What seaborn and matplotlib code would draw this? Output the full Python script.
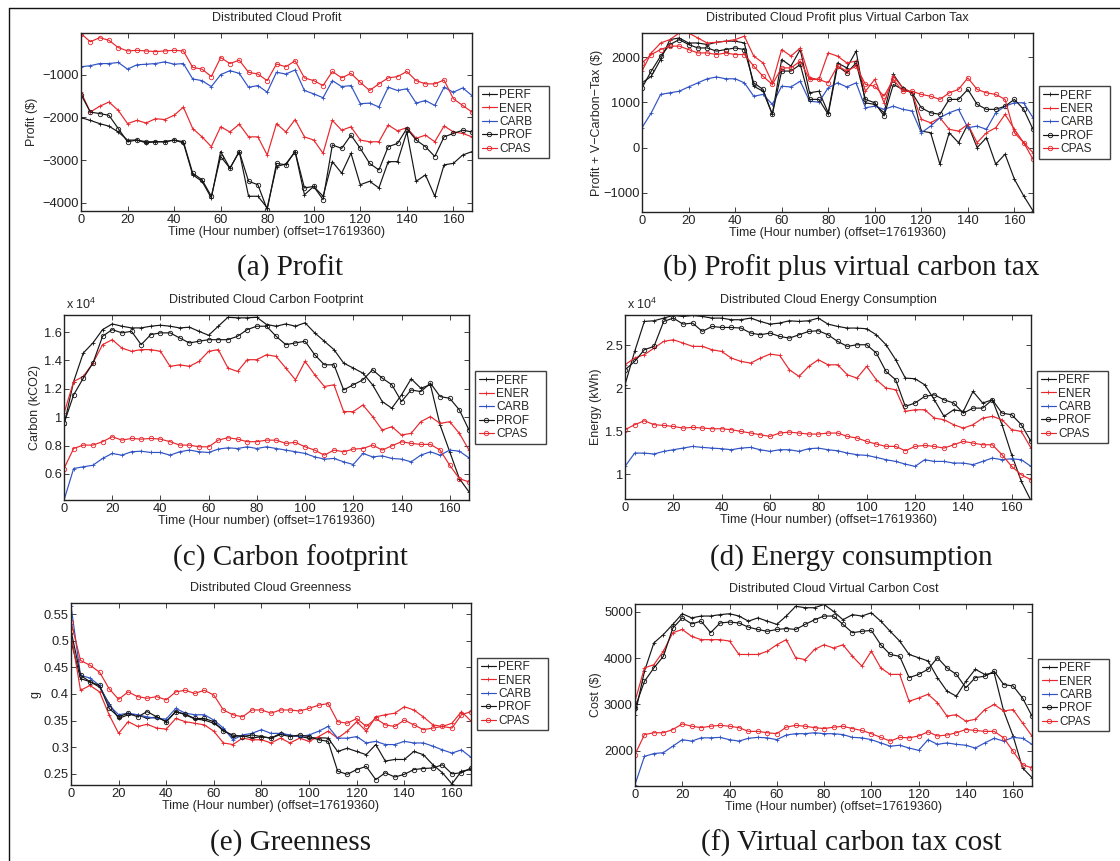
import numpy as np
import pandas as pd
import matplotlib
matplotlib.use("Agg")
import matplotlib.pyplot as plt
from matplotlib.lines import Line2D
from matplotlib.ticker import FuncFormatter, FixedLocator
import seaborn as sns

# ---------------------------------------------------------------- data
HOURS = np.arange(0, 169, 4)            # sampled hour numbers
POLICIES = ["PERF", "ENER", "CARB", "PROF", "CPAS"]
X_TICKS = [0, 20, 40, 60, 80, 100, 120, 140, 160]

# (a) profit ($)
a_perf = [-2005, -2070, -2145, -2205, -2340, -2530, -2530, -2595, -2570, -2570, -2530, -2595,
          -3345, -3495, -3885, -2800, -3190, -2800, -3845, -3845, -4115, -3150, -3090, -2800,
          -3810, -3615, -3845, -3035, -3305, -2840, -3575, -3495, -3650, -3035, -3035, -2340,
          -3495, -3345, -3845, -3110, -3075, -2880, -2800]
a_ener = [-1410, -1875, -1740, -1640, -1835, -2145, -2070, -2130, -2030, -2050, -1950, -1760,
          -2260, -2455, -2685, -2220, -2340, -2160, -2455, -2455, -2880, -2145, -2340, -2050,
          -2455, -2530, -2840, -2070, -2300, -2220, -2530, -2570, -2570, -2180, -2315, -2240,
          -2490, -2415, -2570, -2200, -2340, -2375, -2455]
a_carb = [-815, -790, -740, -740, -715, -870, -770, -755, -740, -700, -755, -740,
          -1100, -1140, -1280, -1000, -905, -970, -1295, -1255, -1410, -945, -985, -890,
          -1370, -1450, -1540, -1140, -1280, -1255, -1680, -1665, -1755, -1295, -1370, -1330,
          -1665, -1605, -1720, -1295, -1410, -1310, -1490]
a_prof = [-1465, -1875, -1910, -1950, -2260, -2570, -2530, -2570, -2570, -2570, -2530, -2570,
          -3305, -3460, -3845, -2915, -3190, -2800, -3495, -3575, -4155, -3075, -3110, -2800,
          -3650, -3615, -3925, -2645, -2725, -2415, -2725, -3075, -3230, -2685, -2610, -2260,
          -2530, -2685, -2915, -2455, -2375, -2300, -2340]
a_cpas = [-40, -230, -135, -195, -365, -445, -430, -445, -460, -445, -430, -445,
          -830, -870, -1045, -600, -740, -660, -945, -985, -1140, -750, -815, -675,
          -1075, -1140, -1255, -925, -1075, -970, -1180, -1370, -1215, -1075, -1045, -925,
          -1140, -1215, -1215, -1125, -1565, -1720, -1875]

# (b) profit plus virtual carbon tax ($)
b_perf = [1430, 1575, 1945, 2385, 2420, 2310, 2310, 2275, 2325, 2350, 2350, 2310,
          1355, 1245, 735, 1945, 1800, 2165, 1210, 1245, 770, 1870, 1760, 2130,
          990, 955, 770, 1615, 1320, 1210, 365, 330, -365, 330, 110, 515,
          0, 220, -365, -145, -695, -1065, -1395]
b_ener = [1690, 2090, 2310, 2385, 2530, 2530, 2420, 2310, 2325, 2350, 2385, 2460,
          2020, 1870, 1430, 2165, 2020, 2200, 1540, 1505, 2090, 2020, 1870, 1910,
          1245, 1505, 990, 1575, 1320, 1210, 625, 550, 660, 405, 365, 515,
          110, 330, 440, 735, 405, 110, -110]
b_carb = [440, 770, 1175, 1210, 1245, 1340, 1430, 1520, 1560, 1520, 1520, 1430,
          1135, 1175, 955, 1355, 1340, 1465, 1025, 1005, 1320, 1430, 1340, 1430,
          880, 915, 845, 915, 845, 810, 330, 475, 660, 770, 845, 440,
          475, 405, 770, 915, 990, 990, 660]
b_prof = [1320, 1690, 2020, 2275, 2385, 2275, 2200, 2200, 2130, 2165, 2200, 2165,
          1430, 1285, 735, 1690, 1690, 1835, 1065, 1065, 735, 1800, 1650, 1870,
          1065, 990, 700, 1395, 1285, 1210, 880, 770, 735, 1065, 1065, 1285,
          955, 845, 845, 915, 1065, 845, 405]
b_cpas = [1870, 2055, 2165, 2240, 2240, 2165, 2090, 2090, 2055, 2090, 2055, 2055,
          1800, 1575, 1395, 1760, 1760, 1910, 1505, 1505, 1430, 1800, 1690, 1800,
          1395, 1355, 1135, 1505, 1245, 1245, 1175, 1135, 1065, 1210, 1285, 1540,
          1285, 1210, 1175, 1065, 330, 110, -255]

# (c) carbon footprint (kCO2)
c_perf = [9450, 12510, 14520, 15230, 16170, 16570, 16410, 16290, 16290, 16410, 16480, 16410,
          16290, 16340, 16050, 15770, 16410, 17040, 17000, 17000, 17040, 16530, 16410, 16570,
          16410, 16650, 15940, 15350, 14760, 13810, 13460, 13100, 12280, 11100, 10630, 11570,
          12700, 12040, 12280, 9450, 7560, 5670, 4730]
c_ener = [10270, 12510, 12870, 13810, 15110, 15460, 14870, 14640, 14760, 14760, 14640, 13580,
          13690, 13580, 13930, 14640, 14760, 13460, 13220, 14050, 14050, 14400, 14280, 13460,
          12630, 13930, 12990, 12160, 12280, 10390, 10390, 10860, 10040, 9090, 9330, 8740,
          8860, 9680, 10040, 9560, 9680, 8860, 7680]
c_carb = [4140, 6380, 6500, 6610, 7090, 7440, 7320, 7560, 7600, 7510, 7510, 7320,
          7560, 7680, 7560, 7510, 7750, 7840, 7790, 7910, 7790, 7910, 7790, 7680,
          7560, 7440, 7200, 7040, 7090, 6850, 6660, 7440, 7200, 7270, 7090, 7040,
          6850, 7320, 7560, 7320, 7680, 7600, 7130]
c_prof = [9560, 11570, 12750, 13810, 15700, 16170, 15940, 16050, 15110, 15820, 15940, 15940,
          15580, 15230, 15350, 15460, 15460, 15460, 15700, 16170, 16410, 16410, 15700, 15110,
          15230, 15350, 14400, 13690, 13690, 11920, 12280, 12630, 13340, 12750, 12280, 11100,
          11920, 11800, 12400, 11450, 11330, 10510, 9090]
c_cpas = [6380, 7790, 8030, 8030, 8270, 8620, 8380, 8500, 8450, 8500, 8450, 8270,
          8030, 8030, 7910, 7910, 8380, 8550, 8450, 8270, 8270, 8380, 8380, 8150,
          8220, 7910, 7680, 7320, 7680, 7560, 7750, 7790, 8030, 7680, 7980, 8270,
          8150, 8080, 8080, 7680, 6610, 5670, 5430]

# (d) energy consumption (kWh)
d_perf = [20390, 24260, 27750, 27830, 28140, 28450, 28330, 28450, 28330, 28140, 28140, 27950,
          27950, 28140, 27750, 27440, 27560, 27830, 27750, 27830, 28140, 27440, 27170, 26980,
          26980, 26900, 26200, 25040, 23300, 21160, 21090, 20390, 18640, 16710, 17480, 17290,
          19610, 18260, 18640, 15740, 12250, 9150, 6900]
d_ener = [22710, 23490, 23880, 24650, 25430, 25620, 25240, 24850, 24850, 24460, 24260, 23490,
          23100, 22910, 23490, 23950, 23800, 22130, 21360, 22520, 23300, 22710, 22710, 21550,
          21160, 22520, 20970, 20000, 19810, 17290, 17480, 17480, 16510, 16320, 15740, 15350,
          15740, 16510, 16710, 16320, 15160, 14960, 13020]
d_carb = [10890, 12440, 12440, 12330, 12640, 12830, 13020, 13220, 13100, 13020, 12950, 12830,
          13020, 13100, 12830, 12640, 12830, 12830, 12640, 12950, 13020, 12830, 12710, 12440,
          12250, 12170, 11940, 11670, 11470, 11160, 10890, 11670, 11470, 11470, 11280, 11280,
          11090, 11470, 11860, 11670, 11780, 11670, 10890]
d_prof = [22130, 23100, 24460, 24850, 27750, 28140, 27440, 27560, 26590, 27170, 27050, 27050,
          26980, 26400, 26200, 26400, 26010, 25810, 26200, 26590, 26670, 26200, 25430, 24850,
          25040, 25040, 24070, 21940, 20970, 17870, 18260, 19030, 19220, 18640, 18260, 17090,
          17670, 17670, 18640, 17090, 16900, 15740, 13800]
d_cpas = [15160, 15740, 16200, 15740, 15660, 15540, 15350, 15430, 15350, 15270, 15270, 15160,
          14960, 14770, 14570, 14380, 14770, 14880, 14770, 14650, 14650, 14770, 14770, 14380,
          14190, 13800, 13490, 13220, 13220, 12710, 13220, 13330, 13220, 13020, 13410, 13800,
          13600, 13410, 13410, 12250, 10890, 9920, 9340]

# (e) greenness g
e_perf = [0.500, 0.429, 0.423, 0.413, 0.382, 0.354, 0.361, 0.361, 0.354, 0.357, 0.348, 0.367,
          0.361, 0.353, 0.351, 0.345, 0.333, 0.320, 0.322, 0.317, 0.320, 0.317, 0.326, 0.322,
          0.320, 0.317, 0.318, 0.317, 0.292, 0.298, 0.292, 0.286, 0.305, 0.274, 0.277, 0.277,
          0.292, 0.286, 0.267, 0.252, 0.231, 0.255, 0.258]
e_ener = [0.513, 0.407, 0.416, 0.404, 0.361, 0.326, 0.348, 0.339, 0.343, 0.336, 0.334, 0.354,
          0.348, 0.345, 0.342, 0.330, 0.308, 0.305, 0.317, 0.314, 0.314, 0.308, 0.317, 0.308,
          0.317, 0.311, 0.320, 0.330, 0.317, 0.330, 0.348, 0.330, 0.357, 0.361, 0.364, 0.376,
          0.370, 0.357, 0.342, 0.339, 0.345, 0.367, 0.349]
e_carb = [0.566, 0.435, 0.430, 0.416, 0.379, 0.361, 0.364, 0.361, 0.357, 0.354, 0.353, 0.373,
          0.364, 0.361, 0.361, 0.351, 0.336, 0.314, 0.323, 0.326, 0.333, 0.326, 0.326, 0.323,
          0.320, 0.323, 0.330, 0.339, 0.317, 0.317, 0.320, 0.308, 0.311, 0.305, 0.305, 0.311,
          0.308, 0.308, 0.302, 0.295, 0.289, 0.295, 0.281]
e_prof = [0.519, 0.435, 0.423, 0.416, 0.373, 0.357, 0.364, 0.357, 0.367, 0.357, 0.348, 0.367,
          0.362, 0.354, 0.354, 0.348, 0.330, 0.323, 0.320, 0.323, 0.320, 0.317, 0.324, 0.320,
          0.323, 0.320, 0.314, 0.311, 0.255, 0.249, 0.258, 0.264, 0.239, 0.252, 0.244, 0.249,
          0.258, 0.260, 0.261, 0.267, 0.250, 0.252, 0.261]
e_cpas = [0.536, 0.463, 0.454, 0.441, 0.410, 0.390, 0.404, 0.395, 0.392, 0.395, 0.389, 0.404,
          0.407, 0.401, 0.407, 0.398, 0.370, 0.361, 0.357, 0.370, 0.370, 0.364, 0.370, 0.370,
          0.368, 0.373, 0.379, 0.382, 0.348, 0.345, 0.354, 0.339, 0.354, 0.342, 0.339, 0.351,
          0.342, 0.333, 0.336, 0.339, 0.336, 0.361, 0.367]

# (f) virtual carbon tax cost ($)
f_perf = [2780, 3720, 4330, 4510, 4730, 4960, 4870, 4910, 4910, 4940, 4960, 4910,
          4800, 4870, 4800, 4730, 4910, 5120, 5090, 5090, 5160, 5010, 4830, 4940,
          4910, 4980, 4800, 4580, 4370, 4080, 4010, 3940, 3580, 3290, 3180, 3500,
          3760, 3650, 3680, 2860, 2320, 1630, 1420]
f_ener = [3070, 3790, 3860, 4150, 4550, 4620, 4470, 4400, 4400, 4400, 4370, 4080,
          4080, 4080, 4150, 4290, 4400, 4010, 3970, 4190, 4290, 4220, 4290, 4040,
          3830, 4150, 3790, 3650, 3650, 3070, 3140, 3220, 3040, 2750, 2780, 2640,
          2680, 2890, 3000, 2860, 2890, 2600, 2320]
f_carb = [1270, 1880, 1940, 1960, 2100, 2240, 2210, 2280, 2280, 2290, 2240, 2210,
          2270, 2290, 2280, 2240, 2340, 2370, 2370, 2390, 2370, 2370, 2350, 2290,
          2280, 2240, 2170, 2100, 2120, 2060, 2010, 2240, 2140, 2170, 2140, 2120,
          2060, 2170, 2270, 2210, 2290, 2270, 2140]
f_prof = [2930, 3500, 3790, 4040, 4650, 4870, 4740, 4800, 4550, 4760, 4780, 4760,
          4670, 4620, 4580, 4620, 4640, 4620, 4730, 4830, 4910, 4910, 4730, 4550,
          4580, 4600, 4290, 4080, 4040, 3580, 3650, 3760, 4010, 3790, 3650, 3360,
          3580, 3610, 3720, 3430, 3400, 3140, 2750]
f_cpas = [1920, 2350, 2390, 2390, 2460, 2580, 2530, 2500, 2530, 2550, 2530, 2500,
          2420, 2420, 2390, 2370, 2510, 2550, 2530, 2500, 2480, 2510, 2530, 2480,
          2440, 2370, 2290, 2210, 2290, 2280, 2320, 2410, 2320, 2340, 2390, 2460,
          2440, 2420, 2420, 2280, 1990, 1700, 1630]

TITLES = ["Distributed Cloud Profit",
          "Distributed Cloud Profit plus Virtual Carbon Tax",
          "Distributed Cloud Carbon Footprint",
          "Distributed Cloud Energy Consumption",
          "Distributed Cloud Greenness",
          "Distributed Cloud Virtual Carbon Cost"]
Y_LABELS = ["Profit ($)", "Profit + V\u2212Carbon\u2212Tax ($)", "Carbon (kCO2)",
            "Energy (kWh)", "g", "Cost ($)"]
CAPTIONS = ["(a) Profit", "(b) Profit plus virtual carbon tax", "(c) Carbon footprint",
            "(d) Energy consumption", "(e) Greenness", "(f) Virtual carbon tax cost"]
Y_TICKS = [[-4000, -3000, -2000, -1000],
           [-1000, 0, 1000, 2000],
           [6000, 8000, 10000, 12000, 14000, 16000],
           [10000, 15000, 20000, 25000],
           [0.25, 0.30, 0.35, 0.40, 0.45, 0.50, 0.55],
           [2000, 3000, 4000, 5000]]
Y_LIMITS = [(-4190, -25), (-1420, 2530), (4160, 17200), (7100, 28500),
            (0.229, 0.571), (1240, 5170)]
X_LABEL = "Time (Hour number) (offset=17619360)"

SERIES = [
    [a_perf, a_ener, a_carb, a_prof, a_cpas],
    [b_perf, b_ener, b_carb, b_prof, b_cpas],
    [c_perf, c_ener, c_carb, c_prof, c_cpas],
    [d_perf, d_ener, d_carb, d_prof, d_cpas],
    [e_perf, e_ener, e_carb, e_prof, e_cpas],
    [f_perf, f_ener, f_carb, f_prof, f_cpas],
]

# ---------------------------------------------------------------- style
sns.set_style("ticks")
plt.rcParams.update({
    "font.family": ["Liberation Sans", "DejaVu Sans"],
    "mathtext.default": "regular",
    "xtick.direction": "in", "ytick.direction": "in",
    "xtick.top": True, "ytick.right": True,
    "xtick.major.size": 3.5, "ytick.major.size": 3.5,
    "xtick.major.width": 0.6, "ytick.major.width": 0.6,
    "xtick.major.pad": 2.5, "ytick.major.pad": 1.5,
    "axes.linewidth": 1.0, "axes.edgecolor": "#222222",
    "xtick.color": "#222222", "ytick.color": "#222222",
})

RED = "#e8262c"
BLUE = "#2f52c4"
BLACK = "#151515"
STYLE = {
    "PERF": dict(color=BLACK, marker="+", ms=3.5),
    "ENER": dict(color=RED, marker="+", ms=3.5),
    "CARB": dict(color=BLUE, marker="+", ms=3.5),
    "PROF": dict(color=BLACK, marker="o", ms=3.2),
    "CPAS": dict(color=RED, marker="o", ms=3.2),
}

W, H = 1120, 861
fig = plt.figure(figsize=(W / 100, H / 100), dpi=100)

# axes boxes in pixels: left, right, top, bottom
BOXES = [(81, 472, 33, 211), (642, 1033, 33, 212),
         (64, 469, 315, 500), (625, 1031, 315, 499),
         (71, 471, 603, 785), (635, 1032, 604, 786)]
YLABEL_X = [32, 597, 35, 596, 36, 596]
CAPTION_POS = [(290, 268), (851, 268), (290, 558), (851, 558), (290, 843), (851, 843)]
SCALED = [False, False, True, True, False, False]

TICK_FS = 9.3
TEXT_FS = 9.0


def fmt_plain(v, _):
    return ("%g" % v).replace("-", "\u2212")


def fmt_e4(v, _):
    return "%g" % (v / 1e4)


for i, (l, r, t, b) in enumerate(BOXES):
    ax = fig.add_axes([l / W, 1 - b / H, (r - l) / W, (b - t) / H])
    long = pd.DataFrame({
        "hour": np.tile(HOURS, len(POLICIES)),
        "value": np.concatenate([np.asarray(s, float) for s in SERIES[i]]),
        "policy": np.repeat(POLICIES, len(HOURS)),
    })
    for name in POLICIES:
        st = STYLE[name]
        sub = long[long["policy"] == name]
        sns.lineplot(data=sub, x="hour", y="value", ax=ax, color=st["color"],
                     marker=st["marker"], markersize=st["ms"],
                     markeredgecolor=st["color"], markerfacecolor="none",
                     markeredgewidth=0.6, linewidth=0.85, label=name,
                     estimator=None, legend=False)
    ax.set_xlim(0, 168)
    ax.set_ylim(*Y_LIMITS[i])
    ax.xaxis.set_major_locator(FixedLocator(X_TICKS))
    ax.yaxis.set_major_locator(FixedLocator(Y_TICKS[i]))
    ax.yaxis.set_major_formatter(FuncFormatter(fmt_e4 if SCALED[i] else fmt_plain))
    ax.tick_params(labelsize=TICK_FS)
    ax.set_xlabel("")
    ax.set_ylabel("")

    cx = (l + r) / 2
    fig.text(cx / W, 1 - (t - 15) / H, TITLES[i], ha="center", va="center",
             fontsize=TEXT_FS)
    fig.text(cx / W, 1 - (b + 21) / H, X_LABEL, ha="center", va="center",
             fontsize=TEXT_FS)
    fig.text(YLABEL_X[i] / W, 1 - ((t + b) / 2) / H, Y_LABELS[i], rotation=90,
             ha="center", va="center", fontsize=TEXT_FS)
    if SCALED[i]:
        fig.text((l + 2) / W, 1 - (t - 3) / H, r"x 10$^{4}$", ha="left",
                 va="bottom", fontsize=TEXT_FS)

    wfrac = 71 / (r - l)
    leg = ax.legend(loc="center left", bbox_to_anchor=(1 + 6 / (r - l), 0, wfrac, 1),
                    mode="expand", borderaxespad=0, frameon=True, fancybox=False,
                    fontsize=8.6, handlelength=1.3, handletextpad=0.15,
                    borderpad=0.3, labelspacing=0.12, numpoints=1)
    leg.get_frame().set_edgecolor("#111111")
    leg.get_frame().set_linewidth(1.0)

    cxp, cyp = CAPTION_POS[i]
    fig.text(cxp / W, 1 - cyp / H, CAPTIONS[i], ha="center", va="center",
             fontsize=21, family=["Liberation Serif", "DejaVu Serif"], color="#1a1a1a")

# page frame lines
fig.add_artist(Line2D([9 / W, 9 / W], [0, 1 - 8 / H], transform=fig.transFigure,
                      color="#111111", lw=1.0))
fig.add_artist(Line2D([9 / W, 1], [1 - 8 / H, 1 - 8 / H], transform=fig.transFigure,
                      color="#111111", lw=1.0))

fig.savefig("out.png", dpi=100)
